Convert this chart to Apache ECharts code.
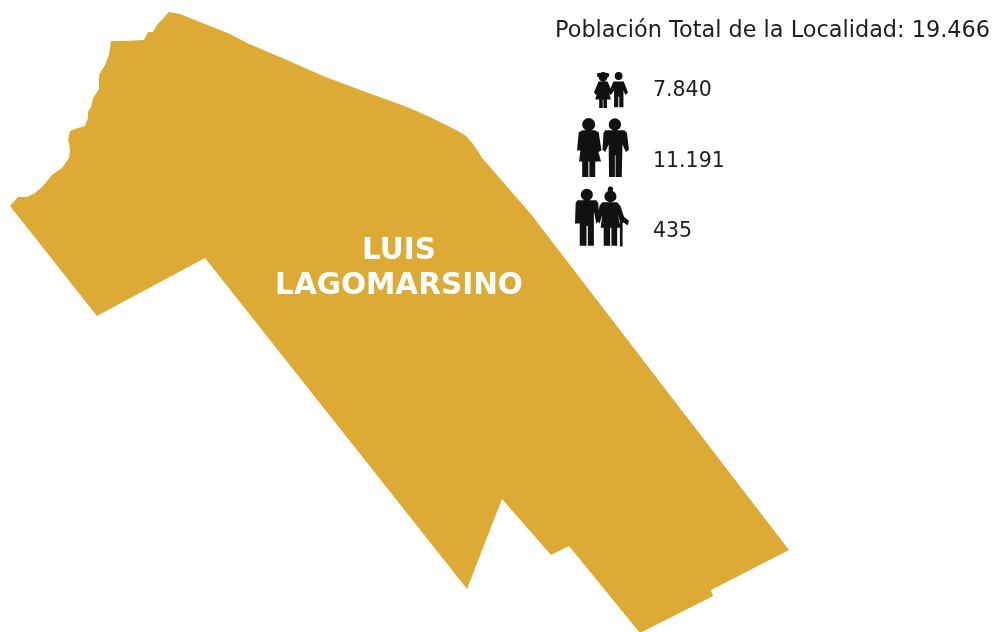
<!DOCTYPE html>
<html>
<head>
<meta charset="utf-8">
<title>Luis Lagomarsino</title>
<script src="https://cdn.jsdelivr.net/npm/echarts@6/dist/echarts.min.js"></script>
<style>
html, body { margin: 0; padding: 0; background: #fff; }
#main { width: 999px; height: 632px; }
</style>
</head>
<body>
<div id="main"></div>
<script>
// contorno de la localidad [x, y]
var outline = [
    [169, 12], [180, 14], [205, 24], [230, 34], [247, 43], [287, 60], [323, 76], [363, 91], [407, 107],
    [430, 117], [458, 131], [466, 136], [473, 144], [483, 159], [530, 213], [789, 550],
    [711, 590], [713, 596], [640, 633], [569, 546], [551, 555], [502, 499], [467, 589],
    [205, 258], [97, 316], [10, 206], [18, 197], [27, 197], [35, 193], [43, 186], [52, 175],
    [62, 168], [69, 158], [70, 150], [69, 143], [68, 140], [70, 131], [78, 128], [85, 126], [88, 118],
    [88, 112], [91, 107], [93, 98], [99, 89], [99, 75], [105, 65], [109, 55], [110, 48], [111, 41],
    [123, 41], [144, 40], [148, 32], [153, 32], [157, 25]
];
var placeName = 'LUIS\nLAGOMARSINO';
var placeAt = [399, 269];
var totalText = 'Población Total de la Localidad: 19.466';
var groupValues = ['7.840', '11.191', '435'];
var groupValueAt = [[653, 91], [653, 162], [653, 232]];
var groupIconAt = [[611, 90], [603, 147.5], [602, 216.5]];
var groupIconSize = [[34, 36], [52, 59], [54, 60]];

function dot(cx, cy, r) {
    return 'M' + (cx - r) + ' ' + cy + 'a' + r + ' ' + r + ' 0 1 1 ' + (2 * r) + ' 0a' + r + ' ' + r + ' 0 1 1 ' + (-2 * r) + ' 0z';
}
var kidsIcon = dot(128, 52, 14) + dot(116, 47, 7) + dot(140, 47, 7) + dot(176, 50, 12) +
    'M114 66L142 66L151 86L160 66L192 66L205 98L197 105L191 92L191 141L178 141L178 110L175 110L175 141L162 141L162 92L152 106L147 100L152 118L140 118L140 143L129 143L129 118L127 118L127 143L116 143L116 118L104 118L109 100L106 105L100 98z';
var adultsIcon = dot(90, 191, 19) + dot(166, 191, 18) +
    'M72 208L108 208L119 214L127 268L118 272L126 300L109 300L109 346L92 346L92 300L89 300L89 346L71 346L71 300L62 300L66 268L56 268L61 214z' +
    'M138 208L194 208L201 216L207 266L198 272L188 250L186 346L168 346L168 282L166 282L166 346L149 346L148 250L138 272L130 266L133 216z';
var eldersIcon = dot(82, 55, 18) + dot(152, 38, 8) + dot(152, 60, 18) +
    'M54 72L110 72L116 80L119 135L110 142L103 105L103 210L85 210L85 150L81 150L81 210L61 210L61 142L47 142L49 80z' +
    'M128 78L172 78L182 90L192 122L207 134L203 148L192 140L188 140L188 212L180 212L180 135L174 115L182 155L172 155L172 210L155 210L155 155L151 155L151 210L132 210L132 155L123 155L128 115L120 142L112 132L120 88z';
var groupIcons = [kidsIcon, adultsIcon, eldersIcon];

echarts.registerMap('localidad', {
    type: 'FeatureCollection',
    features: [{
        type: 'Feature',
        properties: { name: 'Luis Lagomarsino' },
        geometry: {
            type: 'Polygon',
            coordinates: [outline.concat([outline[0]]).map(function (p) { return [p[0], -p[1]]; })]
        }
    }]
});

function toGeo(p) {
    return [p[0], -p[1]];
}

var chart = echarts.init(document.getElementById('main'));
chart.setOption({
    backgroundColor: '#ffffff',
    animation: false,
    title: {
        text: totalText,
        left: 555,
        top: 20,
        textStyle: { fontFamily: 'DejaVu Sans', fontSize: 22.4, fontWeight: 400, color: '#1d1d1b' },
        padding: 0
    },
    geo: {
        map: 'localidad',
        left: 0,
        top: 0,
        right: 0,
        bottom: 0,
        aspectScale: 1,
        boundingCoords: [[0, 0], [999, -632]],
        silent: true,
        label: { show: false },
        itemStyle: { areaColor: '#dcaa35', borderWidth: 0 }
    },
    series: [{
        type: 'scatter',
        coordinateSystem: 'geo',
        silent: true,
        symbolSize: 0,
        itemStyle: { opacity: 1 },
        data: [{ name: placeName, value: toGeo(placeAt) }],
        label: {
            show: true,
            position: 'inside',
            formatter: '{b}',
            align: 'center',
            verticalAlign: 'middle',
            fontFamily: 'DejaVu Sans',
            fontSize: 29.5,
            fontWeight: 'bold',
            lineHeight: 35,
            color: '#ffffff'
        }
    }, {
        type: 'scatter',
        coordinateSystem: 'geo',
        silent: true,
        data: groupIconAt.map(function (p, i) {
            return {
                value: toGeo(p),
                symbol: 'path://' + groupIcons[i],
                symbolSize: groupIconSize[i],
                symbolKeepAspect: false
            };
        }),
        itemStyle: { color: '#111111', opacity: 1 }
    }, {
        type: 'scatter',
        coordinateSystem: 'geo',
        silent: true,
        symbolSize: 0,
        itemStyle: { opacity: 1 },
        data: groupValues.map(function (v, i) {
            return { name: v, value: toGeo(groupValueAt[i]) };
        }),
        label: {
            show: true,
            position: 'inside',
            formatter: '{b}',
            align: 'left',
            verticalAlign: 'middle',
            fontFamily: 'DejaVu Sans',
            fontSize: 20.5,
            color: '#1d1d1b'
        }
    }]
});
</script>
</body>
</html>
